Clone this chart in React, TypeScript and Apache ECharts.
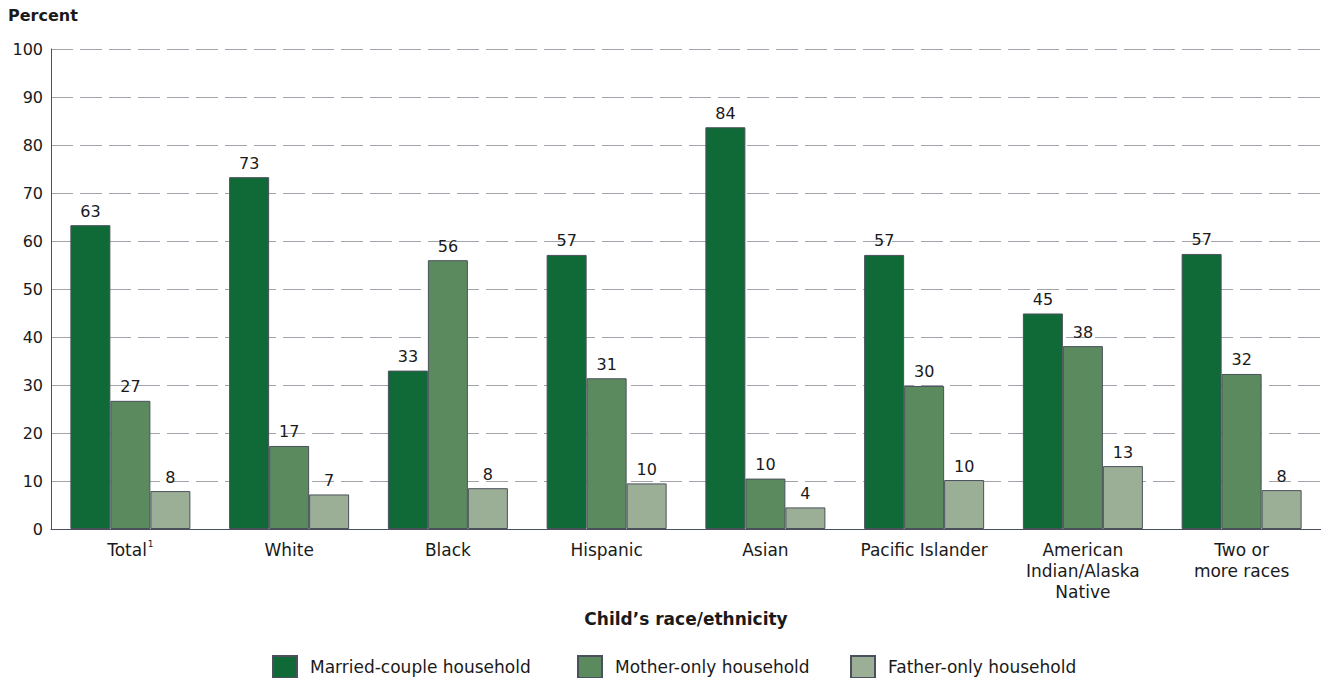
import React, { useEffect, useRef } from "react";
import * as echarts from "echarts";

const categories = [
  "Total{sup|1}",
  "White",
  "Black",
  "Hispanic",
  "Asian",
  "Pacific Islander",
  "American\nIndian/Alaska\nNative",
  "Two or\nmore races",
];
const seriesNames = ["Married-couple household", "Mother-only household", "Father-only household"];
const marriedValues = [63.3, 73.3, 33.0, 57.1, 83.7, 57.1, 44.9, 57.3];
const motherValues = [26.7, 17.3, 56.0, 31.4, 10.5, 29.8, 38.1, 32.3];
const fatherValues = [7.9, 7.2, 8.5, 9.5, 4.5, 10.2, 13.1, 8.1];
const marriedLabels = [63, 73, 33, 57, 84, 57, 45, 57];
const motherLabels = [27, 17, 56, 31, 10, 30, 38, 32];
const fatherLabels = [8, 7, 8, 10, 4, 10, 13, 8];
const yTicks = { min: 0, max: 100, interval: 10 };

const FONT = "DejaVu Sans";
const colors = ["#0f6a37", "#5b8a5f", "#9aaf96"];
const legendLefts = [272, 577, 850];

export default function App() {
  const ref = useRef<HTMLDivElement>(null);
  useEffect(() => {
    if (!ref.current) return;
    const chart = echarts.init(ref.current, undefined, { renderer: "svg" });
    const valuesList = [marriedValues, motherValues, fatherValues];
    const labelsList = [marriedLabels, motherLabels, fatherLabels];
    chart.setOption({
      animation: false,
      textStyle: { fontFamily: FONT },
      grid: { left: 51, right: 0, top: 49, bottom: 149, containLabel: false },
      legend: seriesNames.map((name, i) => ({
        left: legendLefts[i],
        top: 655,
        padding: 0,
        itemWidth: 24,
        itemHeight: 22,
        icon: "rect",
        data: [name],
        selectedMode: false,
        textStyle: { fontFamily: FONT, fontSize: 17, color: "#1a1a1a", padding: [0, 0, 0, 8] },
      })),
      graphic: [
        {
          type: "text",
          left: 8,
          top: 7,
          style: { text: "Percent", fontFamily: FONT, fontSize: 16, fontWeight: "bold", fill: "#1a1a1a" },
        },
        {
          type: "text",
          x: 686,
          y: 610,
          style: {
            text: "Child\u2019s race/ethnicity",
            fontFamily: FONT,
            fontSize: 17,
            fontWeight: "bold",
            fill: "#1a1a1a",
            textAlign: "center",
          },
        },
      ],
      xAxis: {
        type: "category",
        data: categories,
        axisLine: { lineStyle: { color: "#4b515c", width: 1 } },
        axisTick: { show: false },
        axisLabel: {
          color: "#1a1a1a",
          fontFamily: FONT,
          fontSize: 17,
          lineHeight: 21,
          margin: 10,
          interval: 0,
          rich: {
            sup: { fontSize: 9, verticalAlign: "top", padding: [0, 0, 8, 1], color: "#1a1a1a", fontFamily: FONT },
          },
        },
      },
      yAxis: {
        type: "value",
        min: yTicks.min,
        max: yTicks.max,
        interval: yTicks.interval,
        axisLine: { show: true, lineStyle: { color: "#4b515c", width: 1 } },
        axisTick: { show: false },
        axisLabel: { color: "#1a1a1a", fontFamily: FONT, fontSize: 16, margin: 8 },
        splitLine: { lineStyle: { color: "#a3a3ab", width: 1, type: [22, 7] } },
      },
      series: valuesList.map((vals, i) => ({
        name: seriesNames[i],
        type: "bar",
        data: vals,
        barWidth: 40,
        barGap: "0%",
        itemStyle: { color: colors[i], borderColor: "#4b515c", borderWidth: 1 },
        label: {
          show: true,
          position: "top",
          distance: 6,
          color: "#1a1a1a",
          fontFamily: FONT,
          fontSize: 16,
          formatter: (p: any) => String(labelsList[i][p.dataIndex]),
        },
      })),
    });
    return () => chart.dispose();
  }, []);
  return <div ref={ref} style={{ width: 1321, height: 678, position: "absolute", left: 0, top: 0 }} />;
}
